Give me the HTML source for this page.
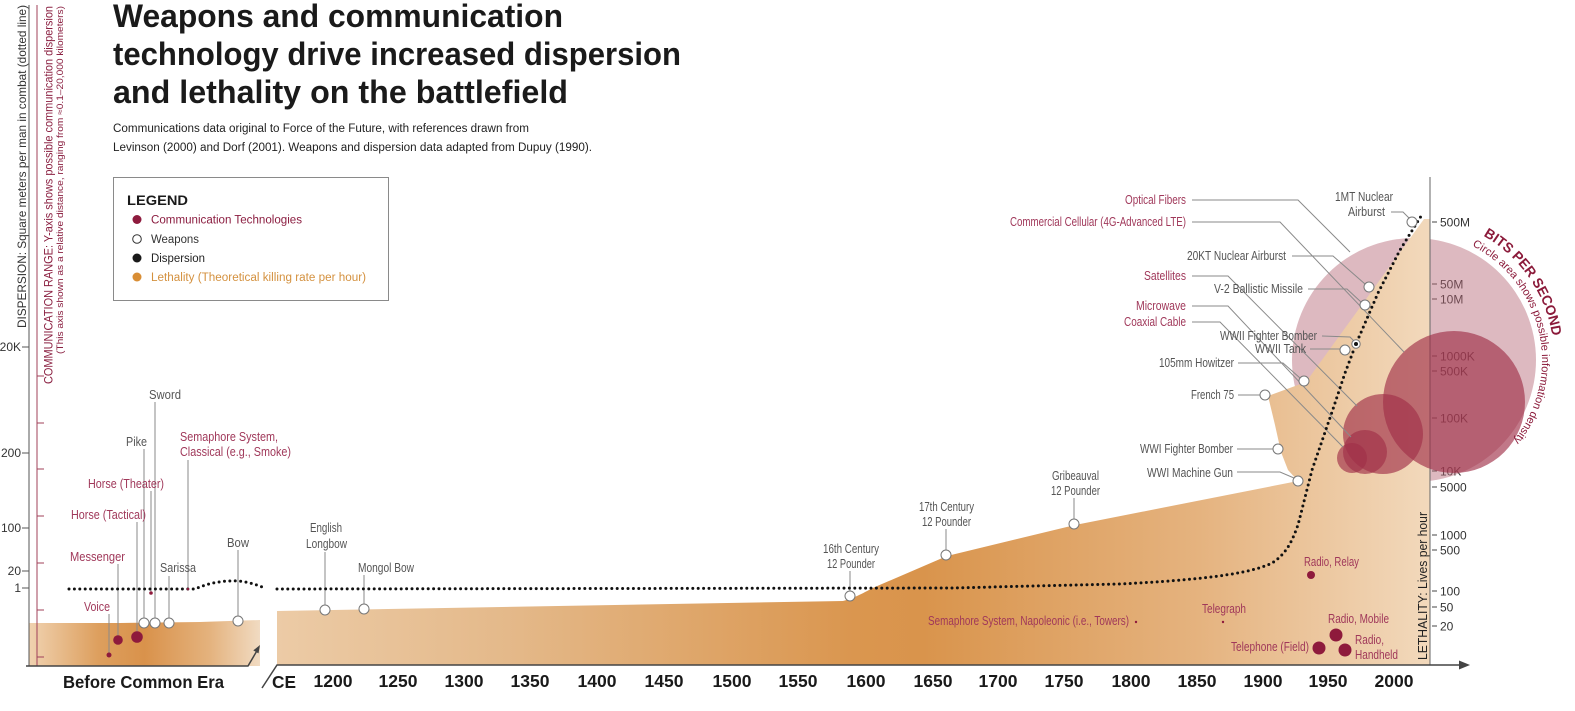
<!DOCTYPE html>
<html><head><meta charset="utf-8"><style>
html,body{margin:0;padding:0;background:#fff;}
svg{display:block;}
.t{font-family:"Liberation Sans",Arial,sans-serif;}
.n{font-family:"Liberation Sans Narrow","Liberation Sans",Arial,sans-serif;font-size:12.5px;}
.w{fill:#555;}
.c{fill:#a0385a;}
.ax{font-family:"Liberation Sans",Arial,sans-serif;font-size:12px;fill:#333;}
.yr{font-family:"Liberation Sans",Arial,sans-serif;font-size:17.5px;font-weight:bold;fill:#1a1a1a;}
</style></head><body>
<svg width="1575" height="711" viewBox="0 0 1575 711" xmlns="http://www.w3.org/2000/svg">
<defs>
<linearGradient id="gB" x1="29" y1="0" x2="260" y2="0" gradientUnits="userSpaceOnUse">
<stop offset="0" stop-color="#f0d2b0"/><stop offset="0.3" stop-color="#dd9f5e"/><stop offset="0.5" stop-color="#d9924b"/><stop offset="0.78" stop-color="#e4b27d"/><stop offset="1" stop-color="#f1dbc2"/>
</linearGradient>
<linearGradient id="gC" x1="277" y1="0" x2="1430" y2="0" gradientUnits="userSpaceOnUse">
<stop offset="0" stop-color="#eccba6"/><stop offset="0.2" stop-color="#e4b98a"/><stop offset="0.5" stop-color="#da964f"/><stop offset="0.56" stop-color="#d9944c"/><stop offset="0.8" stop-color="#e5b37f"/><stop offset="1" stop-color="#f2d9bc"/>
</linearGradient>
<path id="arcBits" d="M 1483.3 235.7 A 140 140 0 0 1 1553.5 346.8"/>
<path id="arcSmall" d="M 1472.1 245.9 A 128 128 0 0 1 1504.5 450.5"/>
</defs>
<rect width="1575" height="711" fill="#fff"/>

<!-- Title -->
<g class="t" font-weight="bold" font-size="32" fill="#1a1a1a">
<text x="113" y="27" textLength="450" lengthAdjust="spacingAndGlyphs">Weapons and communication</text>
<text x="113" y="65" textLength="568" lengthAdjust="spacingAndGlyphs">technology drive increased dispersion</text>
<text x="113" y="103" textLength="455" lengthAdjust="spacingAndGlyphs">and lethality on the battlefield</text>
</g>
<g class="t" font-size="11.5" fill="#222">
<text x="113" y="132" textLength="416" lengthAdjust="spacingAndGlyphs">Communications data original to Force of the Future, with references drawn from</text>
<text x="113" y="151" textLength="479" lengthAdjust="spacingAndGlyphs">Levinson (2000) and Dorf (2001). Weapons and dispersion data adapted from Dupuy (1990).</text>
</g>

<!-- Legend -->
<rect x="113.5" y="177.5" width="275" height="123" fill="#fff" stroke="#8a8a8a" stroke-width="1"/>
<text class="t" x="127" y="205" font-size="14" font-weight="bold" fill="#1a1a1a" textLength="61" lengthAdjust="spacingAndGlyphs">LEGEND</text>
<circle cx="137" cy="219.5" r="4.5" fill="#8e1b3e"/>
<circle cx="137" cy="239" r="4.3" fill="#fff" stroke="#333" stroke-width="1"/>
<circle cx="137" cy="258" r="4.5" fill="#1a1a1a"/>
<circle cx="137" cy="277" r="4.5" fill="#d98e35"/>
<g class="t" font-size="11.5">
<text x="151" y="223.5" fill="#8b1d40" textLength="151" lengthAdjust="spacingAndGlyphs">Communication Technologies</text>
<text x="151" y="243" fill="#333" textLength="48" lengthAdjust="spacingAndGlyphs">Weapons</text>
<text x="151" y="262" fill="#222" textLength="54" lengthAdjust="spacingAndGlyphs">Dispersion</text>
<text x="151" y="281" fill="#d4913f" textLength="215" lengthAdjust="spacingAndGlyphs">Lethality (Theoretical killing rate per hour)</text>
</g>

<!-- Left axis texts -->
<text class="t" transform="translate(26,328) rotate(-90)" font-size="12" fill="#333" textLength="323" lengthAdjust="spacingAndGlyphs">DISPERSION: Square meters per man in combat (dotted line)</text>
<text class="t" transform="translate(52.5,384) rotate(-90)" font-size="12" fill="#8b2142" textLength="378" lengthAdjust="spacingAndGlyphs">COMMUNICATION RANGE: Y-axis shows possible communication dispersion</text>
<text class="t" transform="translate(63,354) rotate(-90)" font-size="9" fill="#8b2142" textLength="348" lengthAdjust="spacingAndGlyphs">(This axis shown as a relative distance, ranging from ≈0.1–20,000 kilometers)</text>

<!-- Left axis ticks -->
<g class="ax" text-anchor="end">
<text x="21" y="351">20K</text>
<text x="21" y="457">200</text>
<text x="21" y="532">100</text>
<text x="21" y="575">20</text>
<text x="21" y="592">1</text>
</g>
<g stroke="#555" stroke-width="1">
<line x1="22" y1="347" x2="29" y2="347"/>
<line x1="22" y1="453" x2="29" y2="453"/>
<line x1="22" y1="528" x2="29" y2="528"/>
<line x1="22" y1="571" x2="29" y2="571"/>
<line x1="22" y1="588" x2="29" y2="588"/>
</g>

<!-- Right axis tick labels (drawn under circles) -->
<g class="ax">
<text x="1440" y="226.5">500M</text>
<text x="1440" y="288.5">50M</text>
<text x="1440" y="303.5">10M</text>
<text x="1440" y="360.5">1000K</text>
<text x="1440" y="375.5">500K</text>
<text x="1440" y="422.5">100K</text>
<text x="1440" y="475.5">10K</text>
<text x="1440" y="491.5">5000</text>
<text x="1440" y="539.5">1000</text>
<text x="1440" y="554.5">500</text>
<text x="1440" y="595.5">100</text>
<text x="1440" y="611.5">50</text>
<text x="1440" y="630.5">20</text>
</g>
<g stroke="#444" stroke-width="1">
<line x1="1432" y1="222" x2="1437" y2="222"/>
<line x1="1432" y1="284" x2="1437" y2="284"/>
<line x1="1432" y1="299" x2="1437" y2="299"/>
<line x1="1432" y1="356" x2="1437" y2="356"/>
<line x1="1432" y1="371" x2="1437" y2="371"/>
<line x1="1432" y1="418" x2="1437" y2="418"/>
<line x1="1432" y1="471" x2="1437" y2="471"/>
<line x1="1432" y1="487" x2="1437" y2="487"/>
<line x1="1432" y1="535" x2="1437" y2="535"/>
<line x1="1432" y1="550" x2="1437" y2="550"/>
<line x1="1432" y1="591" x2="1437" y2="591"/>
<line x1="1432" y1="607" x2="1437" y2="607"/>
<line x1="1432" y1="626" x2="1437" y2="626"/>
</g>

<!-- Pale big circle -->
<circle cx="1414" cy="360" r="122" fill="rgb(180,100,115)" fill-opacity="0.45"/>

<!-- Orange areas -->
<path d="M29,623 L120,623 L200,622 L260,620 L260,666 L29,666 Z" fill="url(#gB)"/>
<path d="M277,611 L843,601 C858,597 866,591 875,587 L947,556 L1075,525 L1298,481 L1288,470 L1281,452 L1275,425 L1268,396 L1306,382 L1424,219 L1430,219 L1430,665 L277,665 Z" fill="url(#gC)"/>

<!-- Axes lines -->
<line x1="29" y1="5" x2="29" y2="666" stroke="#555" stroke-width="1"/>
<line x1="37" y1="5" x2="37" y2="666" stroke="#a0405a" stroke-width="1"/>
<g stroke="#a0405a" stroke-width="1">
<line x1="37" y1="376" x2="44" y2="376"/>
<line x1="37" y1="423" x2="44" y2="423"/>
<line x1="37" y1="469" x2="44" y2="469"/>
<line x1="37" y1="516" x2="44" y2="516"/>
<line x1="37" y1="563" x2="44" y2="563"/>
<line x1="37" y1="610" x2="44" y2="610"/>
<line x1="37" y1="657" x2="44" y2="657"/>
</g>
<line x1="1430" y1="177" x2="1430" y2="665" stroke="#666" stroke-width="1"/>

<!-- Dark circles -->
<g fill="#9f2f48" fill-opacity="0.65">
<circle cx="1454" cy="402" r="71"/>
<circle cx="1383" cy="434" r="40"/>
<circle cx="1365" cy="452" r="22"/>
<circle cx="1352" cy="458" r="15"/>
</g>

<!-- Leader lines -->
<g fill="none" stroke="#8a8a8a" stroke-width="1">
<line x1="155" y1="402" x2="155" y2="618"/>
<line x1="144" y1="449" x2="144" y2="618"/>
<line x1="151" y1="491" x2="151" y2="591"/>
<line x1="137" y1="522" x2="137" y2="632"/>
<line x1="118" y1="564" x2="118" y2="636"/>
<line x1="109" y1="614" x2="109" y2="653"/>
<line x1="169" y1="576" x2="169" y2="618"/>
<line x1="188" y1="460" x2="188" y2="588"/>
<line x1="238" y1="550" x2="238" y2="616"/>
<line x1="325" y1="552" x2="325" y2="605"/>
<line x1="364" y1="575" x2="364" y2="604"/>
<line x1="850" y1="571" x2="850" y2="591"/>
<line x1="946" y1="529" x2="946" y2="550"/>
<line x1="1074" y1="498" x2="1074" y2="519"/>
<polyline points="1391,212 1403,212 1409,218"/>
<polyline points="1292,256 1333,256 1365,284"/>
<polyline points="1308,289 1347,289 1361,302"/>
<polyline points="1322,336 1350,337 1354,341"/>
<line x1="1310" y1="349" x2="1340" y2="349"/>
<polyline points="1238,363 1283,363 1300,378"/>
<line x1="1238" y1="395" x2="1260" y2="395"/>
<line x1="1237" y1="449" x2="1273" y2="449"/>
<polyline points="1237,472 1280,472 1294,478"/>
<polyline points="1192,200 1298,200 1350,252"/>
<polyline points="1192,222 1280,222 1404,352"/>
<polyline points="1192,276 1228,276 1357,406"/>
<polyline points="1192,306 1228,306 1351,437"/>
<polyline points="1192,322 1220,322 1343,447"/>
</g>

<!-- Dotted dispersion lines -->
<g fill="none" stroke="#111" stroke-width="3" stroke-linecap="round" stroke-dasharray="0 5.4">
<path d="M69,589 L195,589 Q215,580 238,581 Q250,582 262,587"/>
<path d="M277,589 L950,588 L1120,584 C1200,580 1250,574 1272,563 C1288,553 1293,538 1298,525 L1312,470 L1332,412 L1345,373 L1356,344 L1378,293 L1400,250 L1423,213"/>
</g>

<!-- Weapons circles -->
<g fill="#fff" stroke="#777" stroke-width="1">
<circle cx="144" cy="623" r="5"/>
<circle cx="155" cy="623" r="5"/>
<circle cx="169" cy="623" r="5"/>
<circle cx="238" cy="621" r="5"/>
<circle cx="325" cy="610" r="5"/>
<circle cx="364" cy="609" r="5"/>
<circle cx="850" cy="596" r="5"/>
<circle cx="946" cy="555" r="5"/>
<circle cx="1074" cy="524" r="5"/>
<circle cx="1298" cy="481" r="5"/>
<circle cx="1278" cy="449" r="5"/>
<circle cx="1265" cy="395" r="5"/>
<circle cx="1304" cy="381" r="5"/>
<circle cx="1345" cy="350" r="5"/>
<circle cx="1365" cy="305" r="5"/>
<circle cx="1369" cy="287" r="5"/>
<circle cx="1412" cy="222" r="5"/>
<circle cx="1356" cy="344" r="4.2"/>
</g>
<circle cx="1356" cy="344" r="2" fill="#111"/>

<!-- Communication dots -->
<g fill="#8e1a3c">
<circle cx="109" cy="655" r="2.5"/>
<circle cx="118" cy="640" r="4.8"/>
<circle cx="137" cy="637" r="5.8"/>
<circle cx="151" cy="593" r="1.8"/>
<circle cx="188" cy="589" r="1.3"/>
<circle cx="1136" cy="622" r="1.2"/>
<circle cx="1223" cy="622" r="1.2"/>
<circle cx="1311" cy="575" r="4"/>
<circle cx="1336" cy="635" r="6.5"/>
<circle cx="1319" cy="648" r="6.5"/>
<circle cx="1345" cy="650" r="6.5"/>
</g>

<!-- Labels BCE -->
<g class="n">
<text class="w" x="149" y="399" textLength="32" lengthAdjust="spacingAndGlyphs">Sword</text>
<text class="w" x="126" y="446" textLength="21" lengthAdjust="spacingAndGlyphs">Pike</text>
<text class="c" x="180" y="441" textLength="98" lengthAdjust="spacingAndGlyphs">Semaphore System,</text>
<text class="c" x="180" y="456" textLength="111" lengthAdjust="spacingAndGlyphs">Classical (e.g., Smoke)</text>
<text class="c" x="88" y="488" textLength="76" lengthAdjust="spacingAndGlyphs">Horse (Theater)</text>
<text class="c" x="71" y="519" textLength="75" lengthAdjust="spacingAndGlyphs">Horse (Tactical)</text>
<text class="w" x="227" y="547" textLength="22" lengthAdjust="spacingAndGlyphs">Bow</text>
<text class="c" x="70" y="561" textLength="55" lengthAdjust="spacingAndGlyphs">Messenger</text>
<text class="w" x="160" y="572" textLength="36" lengthAdjust="spacingAndGlyphs">Sarissa</text>
<text class="c" x="84" y="611" textLength="26" lengthAdjust="spacingAndGlyphs">Voice</text>

<!-- Labels CE -->
<text class="w" x="310" y="532" textLength="32" lengthAdjust="spacingAndGlyphs">English</text>
<text class="w" x="306" y="548" textLength="41" lengthAdjust="spacingAndGlyphs">Longbow</text>
<text class="w" x="358" y="572" textLength="56" lengthAdjust="spacingAndGlyphs">Mongol Bow</text>
<text class="w" x="823" y="553" textLength="56" lengthAdjust="spacingAndGlyphs">16th Century</text>
<text class="w" x="827" y="568" textLength="48" lengthAdjust="spacingAndGlyphs">12 Pounder</text>
<text class="w" x="919" y="511" textLength="55" lengthAdjust="spacingAndGlyphs">17th Century</text>
<text class="w" x="922" y="526" textLength="49" lengthAdjust="spacingAndGlyphs">12 Pounder</text>
<text class="w" x="1052" y="480" textLength="47" lengthAdjust="spacingAndGlyphs">Gribeauval</text>
<text class="w" x="1051" y="495" textLength="49" lengthAdjust="spacingAndGlyphs">12 Pounder</text>
<text class="c" x="928" y="625" textLength="201" lengthAdjust="spacingAndGlyphs">Semaphore System, Napoleonic (i.e., Towers)</text>
<text class="c" x="1202" y="613" textLength="44" lengthAdjust="spacingAndGlyphs">Telegraph</text>
<text class="c" x="1304" y="566" textLength="55" lengthAdjust="spacingAndGlyphs">Radio, Relay</text>
<text class="c" x="1328" y="623" textLength="61" lengthAdjust="spacingAndGlyphs">Radio, Mobile</text>
<text class="c" x="1231" y="651" textLength="78" lengthAdjust="spacingAndGlyphs">Telephone (Field)</text>
<text class="c" x="1355" y="644" textLength="29" lengthAdjust="spacingAndGlyphs">Radio,</text>
<text class="c" x="1355" y="659" textLength="43" lengthAdjust="spacingAndGlyphs">Handheld</text>

<!-- Labels right -->
<g text-anchor="end">
<text class="c" x="1186" y="204" textLength="61" lengthAdjust="spacingAndGlyphs">Optical Fibers</text>
<text class="c" x="1186" y="226" textLength="176" lengthAdjust="spacingAndGlyphs">Commercial Cellular (4G-Advanced LTE)</text>
<text class="w" x="1286" y="260" textLength="99" lengthAdjust="spacingAndGlyphs">20KT Nuclear Airburst</text>
<text class="c" x="1186" y="280" textLength="42" lengthAdjust="spacingAndGlyphs">Satellites</text>
<text class="w" x="1303" y="293" textLength="89" lengthAdjust="spacingAndGlyphs">V-2 Ballistic Missile</text>
<text class="c" x="1186" y="310" textLength="50" lengthAdjust="spacingAndGlyphs">Microwave</text>
<text class="c" x="1186" y="326" textLength="62" lengthAdjust="spacingAndGlyphs">Coaxial Cable</text>
<text class="w" x="1317" y="340" textLength="97" lengthAdjust="spacingAndGlyphs">WWII Fighter Bomber</text>
<text class="w" x="1306" y="353" textLength="51" lengthAdjust="spacingAndGlyphs">WWII Tank</text>
<text class="w" x="1234" y="367" textLength="75" lengthAdjust="spacingAndGlyphs">105mm Howitzer</text>
<text class="w" x="1234" y="399" textLength="43" lengthAdjust="spacingAndGlyphs">French 75</text>
<text class="w" x="1233" y="453" textLength="93" lengthAdjust="spacingAndGlyphs">WWI Fighter Bomber</text>
<text class="w" x="1233" y="477" textLength="86" lengthAdjust="spacingAndGlyphs">WWI Machine Gun</text>
</g>
<text class="w" x="1335" y="201" textLength="58" lengthAdjust="spacingAndGlyphs">1MT Nuclear</text>
<text class="w" x="1348" y="216" textLength="37" lengthAdjust="spacingAndGlyphs">Airburst</text>
</g>

<!-- Lethality axis label -->
<text class="t" transform="translate(1427,660) rotate(-90)" font-size="12.5" fill="#222" textLength="148" lengthAdjust="spacingAndGlyphs">LETHALITY: Lives per hour</text>

<!-- Baselines -->
<polyline points="26,666 248,666 258,649" fill="none" stroke="#444" stroke-width="1.5"/>
<polygon points="260,645 258.5,653.4 253.3,650.4" fill="#444"/>
<polyline points="262,688 277,665 1462,665" fill="none" stroke="#444" stroke-width="1.5"/>
<polygon points="1470,665 1459,660.5 1459,669.5" fill="#444"/>

<!-- X axis labels -->
<text class="yr" x="63" y="688" textLength="161" lengthAdjust="spacingAndGlyphs">Before Common Era</text>
<text class="yr" x="272" y="688" textLength="24" lengthAdjust="spacingAndGlyphs">CE</text>
<g class="yr" text-anchor="middle">
<text x="333" y="687">1200</text>
<text x="398" y="687">1250</text>
<text x="464" y="687">1300</text>
<text x="530" y="687">1350</text>
<text x="597" y="687">1400</text>
<text x="664" y="687">1450</text>
<text x="732" y="687">1500</text>
<text x="798" y="687">1550</text>
<text x="866" y="687">1600</text>
<text x="933" y="687">1650</text>
<text x="998" y="687">1700</text>
<text x="1064" y="687">1750</text>
<text x="1131" y="687">1800</text>
<text x="1197" y="687">1850</text>
<text x="1263" y="687">1900</text>
<text x="1328" y="687">1950</text>
<text x="1394" y="687">2000</text>
</g>

<!-- Curved texts -->
<text class="t" font-size="14" font-weight="bold" fill="#8b1a3a"><textPath href="#arcBits" textLength="126" lengthAdjust="spacingAndGlyphs">BITS PER SECOND</textPath></text>
<text class="t" font-size="11" fill="#8b1a3a"><textPath href="#arcSmall" textLength="228" lengthAdjust="spacingAndGlyphs">Circle area shows possible information density</textPath></text>
</svg>
</body></html>
